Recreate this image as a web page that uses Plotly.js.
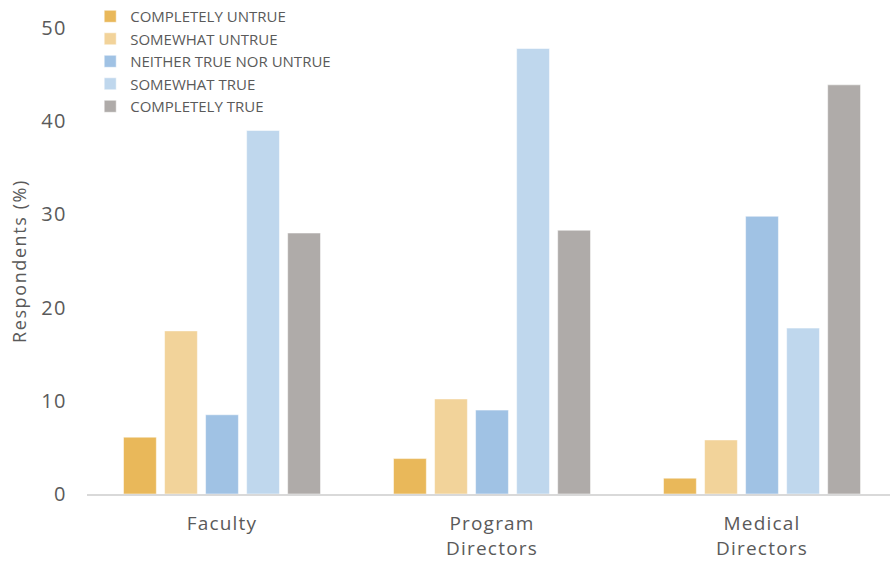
<!DOCTYPE html>
<html>
<head>
<meta charset="utf-8">
<script src="https://cdn.plot.ly/plotly-3.0.1.min.js"></script>
<style>
html,body{margin:0;padding:0;background:#fff;}
#chart{width:890px;height:567px;}
#chart .xtick text{letter-spacing:1.2px;}
#chart .ytick text{letter-spacing:1.5px;}
#chart text.ytitle{letter-spacing:1.6px;}
</style>
</head>
<body>
<div id="chart"></div>
<script>
const categories = ["Faculty", "Program<br>Directors", "Medical<br>Directors"];
const seriesNames = ["COMPLETELY UNTRUE", "SOMEWHAT UNTRUE", "NEITHER TRUE NOR UNTRUE", "SOMEWHAT TRUE", "COMPLETELY TRUE"];
const completelyUntrue = [6.1, 3.8, 1.7];
const somewhatUntrue = [17.5, 10.2, 5.8];
const neither = [8.5, 9.0, 29.8];
const somewhatTrue = [39.0, 47.8, 17.8];
const completelyTrue = [28.0, 28.3, 43.9];
const yTicks = [0, 10, 20, 30, 40, 50];
const colors = ["#E9B85A", "#F2D39A", "#A0C2E4", "#BFD7ED", "#AFABA9"];

const values = [completelyUntrue, somewhatUntrue, neither, somewhatTrue, completelyTrue];
const traces = values.map((v, i) => ({
  type: "bar",
  name: seriesNames[i],
  x: categories,
  y: v,
  marker: {color: colors[i], line: {color: "rgba(255,255,255,0.5)", width: 1}},
  hoverinfo: "skip"
}));

const layout = {
  width: 890, height: 567,
  margin: {l: 87, r: 0, t: 28, b: 73, autoexpand: false},
  paper_bgcolor: "#fff", plot_bgcolor: "#fff",
  font: {family: "'Open Sans', Lato, sans-serif", color: "#5a5a5a"},
  barmode: "group",
  bargap: 0.24,
  bargroupgap: 0.2,
  showlegend: true,
  legend: {
    x: 0.004, y: 1.06, xanchor: "left", yanchor: "top",
    font: {size: 15, color: "#5a5a5a"},
    bgcolor: "rgba(0,0,0,0)",
    itemclick: false, tracegroupgap: 0
  },
  xaxis: {
    type: "category",
    range: [-0.5, 2.474],
    showline: true, linecolor: "#d9d9d9", linewidth: 2,
    showgrid: false, zeroline: false,
    ticks: "",
    tickfont: {size: 19, color: "#5a5a5a"},
    ticklabelstandoff: 11
  },
  yaxis: {
    range: [0, 50],
    tickvals: yTicks,
    showgrid: false, zeroline: false, showline: false,
    ticks: "",
    tickfont: {size: 20, color: "#5a5a5a"},
    ticklabelstandoff: 19,
    title: {text: "Respondents (%)", font: {size: 18, color: "#5a5a5a"}, standoff: 12}
  }
};

Plotly.newPlot("chart", traces, layout, {displayModeBar: false, staticPlot: true});
</script>
</body>
</html>
